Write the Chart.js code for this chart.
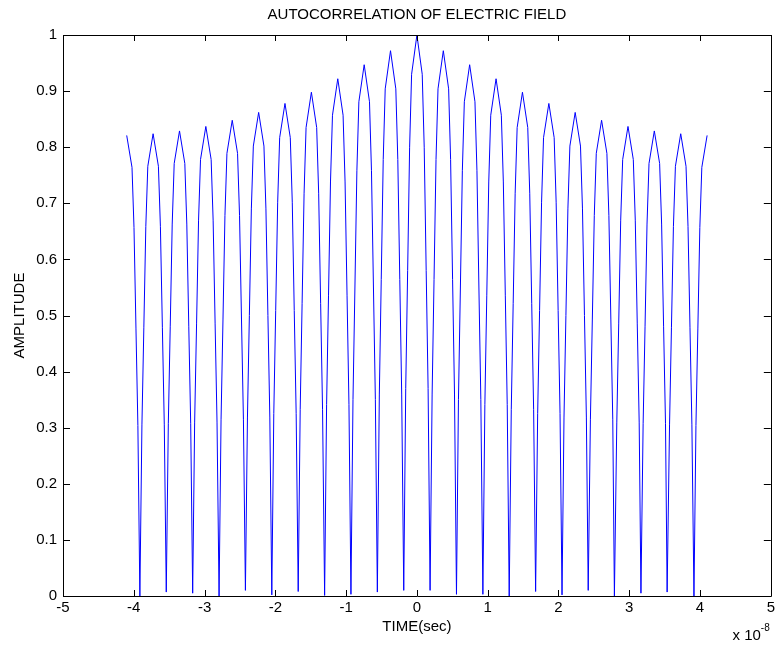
<!DOCTYPE html>
<html>
<head>
<meta charset="utf-8">
<script src="https://cdn.jsdelivr.net/npm/chart.js@4"></script>
<style>
  body { margin: 0; background: #fff; }
  canvas { display: block; }
</style>
</head>
<body>
<canvas id="acf" width="778" height="647"></canvas>
<script>
// time axis in units of 1e-8 s
var timeE8 = [
  -4.100, -4.025, -3.997, -3.969, -3.942, -3.914,
  -3.885, -3.858, -3.830, -3.802, -3.727, -3.652, -3.624, -3.596, -3.569, -3.541,
  -3.512, -3.485, -3.457, -3.429, -3.354, -3.279, -3.251, -3.223, -3.196, -3.168,
  -3.140, -3.113, -3.085, -3.057, -2.982, -2.907, -2.879, -2.851, -2.824, -2.795,
  -2.767, -2.740, -2.712, -2.684, -2.609, -2.534, -2.506, -2.478, -2.451, -2.423,
  -2.394, -2.367, -2.339, -2.311, -2.236, -2.161, -2.133, -2.105, -2.078, -2.050,
  -2.022, -1.995, -1.967, -1.939, -1.864, -1.789, -1.761, -1.733, -1.706, -1.677,
  -1.649, -1.622, -1.594, -1.566, -1.491, -1.416, -1.388, -1.360, -1.333, -1.304,
  -1.276, -1.249, -1.221, -1.193, -1.118, -1.043, -1.015, -0.987, -0.960, -0.932,
  -0.903, -0.876, -0.848, -0.820, -0.745, -0.670, -0.642, -0.614, -0.587, -0.559,
  -0.531, -0.504, -0.476, -0.448, -0.373, -0.298, -0.270, -0.242, -0.215, -0.186,
  -0.158, -0.131, -0.103, -0.075, 0.000, 0.075, 0.103, 0.131, 0.158, 0.186,
  0.215, 0.242, 0.270, 0.298, 0.373, 0.448, 0.476, 0.504, 0.531, 0.559,
  0.587, 0.614, 0.642, 0.670, 0.745, 0.820, 0.848, 0.876, 0.903, 0.932,
  0.960, 0.987, 1.015, 1.043, 1.118, 1.193, 1.221, 1.249, 1.276, 1.304,
  1.333, 1.360, 1.388, 1.416, 1.491, 1.566, 1.594, 1.622, 1.649, 1.677,
  1.706, 1.733, 1.761, 1.789, 1.864, 1.939, 1.967, 1.995, 2.022, 2.050,
  2.078, 2.105, 2.133, 2.161, 2.236, 2.311, 2.339, 2.367, 2.394, 2.420,
  2.451, 2.478, 2.506, 2.534, 2.609, 2.684, 2.712, 2.740, 2.767, 2.790,
  2.824, 2.851, 2.879, 2.907, 2.982, 3.057, 3.085, 3.113, 3.140, 3.165,
  3.196, 3.223, 3.251, 3.279, 3.354, 3.429, 3.457, 3.485, 3.512, 3.535,
  3.569, 3.596, 3.624, 3.652, 3.727, 3.802, 3.830, 3.858, 3.885, 3.914,
  3.942, 3.969, 3.997, 4.025, 4.100
];

var amplitude = [
  0.821, 0.764, 0.657, 0.476, 0.304, 0.000,
  0.305, 0.478, 0.659, 0.766, 0.824, 0.766, 0.659, 0.478, 0.305, 0.007,
  0.307, 0.481, 0.663, 0.771, 0.829, 0.771, 0.663, 0.481, 0.307, 0.005,
  0.310, 0.485, 0.670, 0.778, 0.837, 0.778, 0.670, 0.485, 0.310, 0.000,
  0.314, 0.492, 0.678, 0.789, 0.848, 0.789, 0.678, 0.492, 0.314, 0.010,
  0.319, 0.500, 0.690, 0.802, 0.862, 0.802, 0.690, 0.500, 0.319, 0.002,
  0.325, 0.509, 0.702, 0.817, 0.878, 0.817, 0.702, 0.509, 0.325, 0.008,
  0.332, 0.521, 0.718, 0.835, 0.898, 0.835, 0.718, 0.521, 0.332, 0.001,
  0.341, 0.535, 0.738, 0.857, 0.922, 0.857, 0.738, 0.535, 0.341, 0.003,
  0.350, 0.549, 0.758, 0.881, 0.947, 0.881, 0.758, 0.549, 0.350, 0.007,
  0.360, 0.564, 0.778, 0.904, 0.972, 0.904, 0.778, 0.564, 0.360, 0.010,
  0.370, 0.580, 0.800, 0.930, 1.000, 0.930, 0.800, 0.580, 0.370, 0.010,
  0.360, 0.564, 0.778, 0.904, 0.972, 0.904, 0.778, 0.564, 0.360, 0.003,
  0.350, 0.549, 0.758, 0.881, 0.947, 0.881, 0.758, 0.549, 0.350, 0.003,
  0.341, 0.535, 0.738, 0.857, 0.922, 0.857, 0.738, 0.535, 0.341, 0.000,
  0.332, 0.521, 0.718, 0.835, 0.898, 0.835, 0.718, 0.521, 0.332, 0.008,
  0.325, 0.509, 0.702, 0.817, 0.878, 0.817, 0.702, 0.509, 0.325, 0.002,
  0.319, 0.500, 0.690, 0.802, 0.862, 0.802, 0.690, 0.500, 0.319, 0.010,
  0.314, 0.492, 0.678, 0.789, 0.848, 0.789, 0.678, 0.492, 0.314, 0.000,
  0.310, 0.485, 0.670, 0.778, 0.837, 0.778, 0.670, 0.485, 0.310, 0.005,
  0.307, 0.481, 0.663, 0.771, 0.829, 0.771, 0.663, 0.481, 0.307, 0.007,
  0.305, 0.478, 0.659, 0.766, 0.824, 0.766, 0.659, 0.478, 0.305, 0.000,
  0.304, 0.476, 0.657, 0.764, 0.821
];

var xTickValues = [-5, -4, -3, -2, -1, 0, 1, 2, 3, 4, 5];
var yTickValues = [0, 0.1, 0.2, 0.3, 0.4, 0.5, 0.6, 0.7, 0.8, 0.9, 1];
var chartTitle = "AUTOCORRELATION OF ELECTRIC FIELD";

var FONT = "'Liberation Sans', Arial, Helvetica, sans-serif";
Chart.defaults.font.family = FONT;
Chart.defaults.font.size = 15;
Chart.defaults.color = "#000";

var points = timeE8.map(function (t, i) {
  return { x: t, y: amplitude[i] };
});

// matlab style box with inward ticks, title over the axes, x10^-8 exponent
var matlabBox = {
  id: "matlabBox",
  afterDraw: function (chart) {
    var ctx = chart.ctx;
    var a = chart.chartArea;
    var xs = chart.scales.x, ys = chart.scales.y;
    ctx.save();
    ctx.strokeStyle = "#000";
    ctx.lineWidth = 1;
    ctx.beginPath();
    ctx.rect(Math.round(a.left) + 0.5, Math.round(a.top) + 0.5,
             Math.round(a.right - a.left), Math.round(a.bottom - a.top));
    xTickValues.forEach(function (v) {
      var px = Math.round(xs.getPixelForValue(v)) + 0.5;
      ctx.moveTo(px, a.bottom); ctx.lineTo(px, a.bottom - 6);
      ctx.moveTo(px, a.top); ctx.lineTo(px, a.top + 6);
    });
    yTickValues.forEach(function (v) {
      var py = Math.round(ys.getPixelForValue(v)) + 0.5;
      ctx.moveTo(a.left, py); ctx.lineTo(a.left + 7, py);
      ctx.moveTo(a.right, py); ctx.lineTo(a.right - 7, py);
    });
    ctx.stroke();

    ctx.fillStyle = "#000";
    ctx.textBaseline = "middle";
    ctx.textAlign = "center";
    ctx.font = "15px " + FONT;
    ctx.fillText(chartTitle, (a.left + a.right) / 2, 15);

    ctx.textAlign = "right";
    ctx.fillText("x 10", a.right - 10, 636);
    ctx.textAlign = "left";
    ctx.font = "10px " + FONT;
    ctx.fillText("-8", a.right - 10, 628);
    ctx.restore();
  }
};

new Chart(document.getElementById("acf"), {
  type: "scatter",
  data: {
    datasets: [{
      data: points,
      showLine: true,
      borderColor: "#0000ff",
      borderWidth: 1,
      pointRadius: 0,
      tension: 0,
      fill: false
    }]
  },
  options: {
    responsive: false,
    animation: false,
    devicePixelRatio: 1,
    layout: { padding: { left: 0, right: 7, top: 35, bottom: 0 } },
    plugins: {
      legend: { display: false },
      tooltip: { enabled: false },
      title: { display: false }
    },
    scales: {
      x: {
        type: "linear",
        min: -5,
        max: 5,
        afterBuildTicks: function (s) {
          s.ticks = xTickValues.map(function (v) { return { value: v }; });
        },
        ticks: { padding: 3, maxRotation: 0, color: "#000" },
        grid: { display: false, drawTicks: false },
        border: { display: false },
        title: {
          display: true,
          text: "TIME(sec)",
          color: "#000",
          padding: { top: 0, bottom: 11 }
        },
        afterFit: function (s) { s.height = 51; }
      },
      y: {
        type: "linear",
        min: 0,
        max: 1,
        afterBuildTicks: function (s) {
          s.ticks = yTickValues.map(function (v) { return { value: v }; });
        },
        ticks: {
          padding: 6,
          color: "#000",
          callback: function (v) { return String(Math.round(v * 10) / 10); }
        },
        grid: { display: false, drawTicks: false },
        border: { display: false },
        title: {
          display: true,
          text: "AMPLITUDE",
          color: "#000",
          padding: { top: 11, bottom: 0 }
        },
        afterFit: function (s) { s.width = 63; }
      }
    }
  },
  plugins: [matlabBox]
});
</script>
</body>
</html>
